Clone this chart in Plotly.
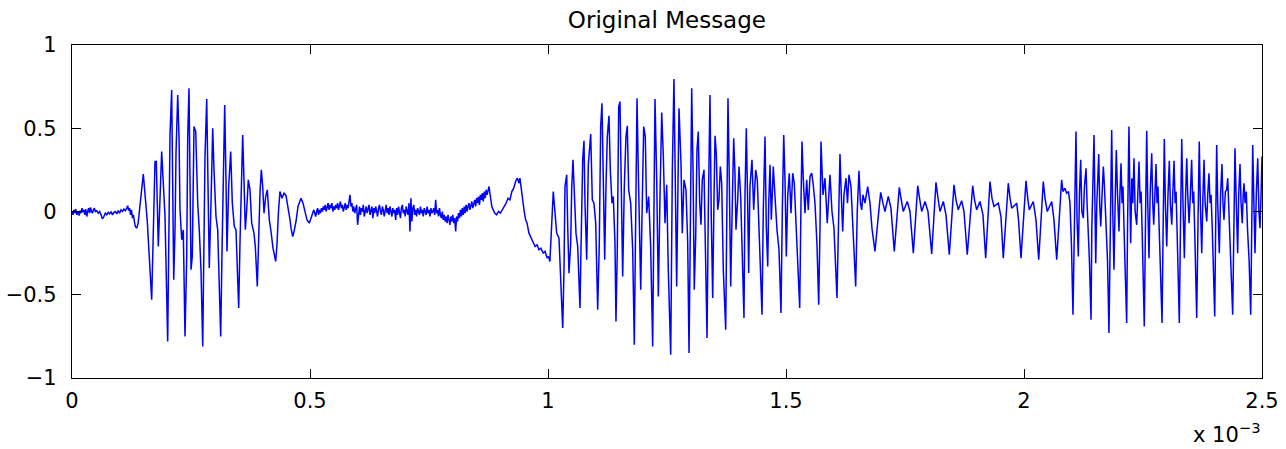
import plotly.graph_objects as go

# ---- data (time in microseconds, amplitude) ----
t_lead = [0, 2, 4, 6, 8, 10, 13, 15, 17, 19, 21, 23, 25, 27, 29, 31, 33, 35, 37, 39, 41, 43, 45, 47, 49,
          52, 55, 58, 61, 64, 67, 70, 73, 76, 79, 82, 85, 88, 91, 94, 97, 100, 103, 106, 109, 112, 115,
          117, 119, 121, 123, 125, 127, 129, 131, 133, 136, 139]
y_lead = [0.0, -0.02, 0.01, -0.01, 0.015, -0.02, 0.0, -0.025, 0.005, -0.01, 0.02, -0.005, 0.01, -0.02,
          0.015, -0.03, 0.0, 0.02, -0.01, 0.025, 0.0, -0.01, 0.01, 0.02, 0.0, 0.005, -0.01, 0.0, -0.02,
          -0.045, -0.03, -0.01, -0.02, -0.005, -0.015, 0.0, -0.02, -0.005, 0.0, -0.015, 0.005, -0.01,
          0.01, 0.0, 0.015, 0.005, 0.02, 0.035, 0.005, 0.02, -0.02, 0.01, -0.04, -0.02, -0.06, -0.09,
          -0.10, -0.07]

t_burst1 = [149.8, 158.2, 167.4, 174.4, 177.1, 181.3, 188.4, 195.4, 201.0, 203.8, 205.9, 209.4, 211.6,
            213.7, 216.4, 218.5, 222.1, 224.8, 226.9, 230.5, 233.8, 237.4, 241.0, 243.1, 245.8, 247.9,
            250.0, 252.7, 256.3, 259.9, 264.1, 267.4, 271.0, 274.6, 277.3, 279.4, 283.0, 286.3, 288.4,
            292.0, 295.6, 298.3, 302.5, 306.1, 309.4, 312.4, 315.1, 317.9, 320.8, 323.5, 325.6, 329.2,
            333.4, 336.8, 341.0, 344.5, 347.3, 350.2, 352.9, 355.7, 358.6, 361.3, 364.1, 367.0, 370.4,
            373.9, 377.5, 382.3, 385.1, 389.3, 392.8, 394.9, 397.7, 400.6, 403.4, 406.9, 410.3, 414.5,
            418.1, 422.3, 427.9, 430.6, 433.8, 436.9, 441.1, 445.4, 449.6, 453.8, 458.0, 460.1, 463.7,
            466.4, 470.6, 474.8, 481.1, 485.3, 489.5, 493.7, 498.5, 502.1]
y_burst1 = [0.225, -0.06, -0.53, 0.30, 0.30, -0.21, 0.36, -0.03, -0.78, -0.10, 0.46, 0.73, 0.21, -0.41,
            -0.11, 0.35, 0.70, 0.45, 0.01, -0.17, -0.11, -0.75, -0.27, 0.45, 0.74, 0.21, -0.35, -0.27,
            0.51, 0.48, 0.05, -0.11, -0.35, -0.81, -0.11, 0.33, 0.675, 0.19, -0.34, 0.05, 0.50, 0.25,
            -0.03, -0.11, -0.45, -0.75, -0.25, 0.31, 0.64, 0.19, -0.24, 0.15, 0.36, 0.05, -0.09, -0.11,
            -0.31, -0.58, -0.19, 0.25, 0.46, 0.19, -0.11, 0.01, 0.19, 0.13, -0.07, -0.13, -0.21, -0.45,
            -0.05, 0.11, 0.25, 0.15, -0.01, 0.09, 0.13, -0.05, -0.12, -0.22, -0.30, -0.20, 0.0, 0.12,
            0.08, 0.11, 0.095, 0.03, -0.05, -0.10, -0.15, -0.12, -0.06, 0.03, 0.08, 0.05, -0.01, -0.05,
            -0.07, -0.04]

t_quiet = [506, 508, 510, 512, 514, 516, 518, 520, 522, 524,
           526, 528, 530, 532, 534, 536, 538, 540, 542, 544,
           546, 548, 550, 552, 554, 556, 558, 560, 562, 564,
           566, 568, 570, 572, 574, 576, 578, 580, 582, 584,
           586, 588, 590, 592, 594, 596, 598, 600, 602, 604,
           606, 608, 610, 612, 614, 616, 618, 620, 622, 624,
           626, 628, 630, 632, 634, 636, 638, 640, 642, 644,
           646, 648, 650, 652, 654, 656, 658, 660, 662, 664,
           666, 668, 670, 672, 674, 676, 678, 680, 682, 684,
           686, 688, 690, 692, 694, 696, 698, 700, 702, 704,
           706, 708, 710, 712, 714, 716, 718, 720, 722, 724,
           726, 728, 730, 732, 734, 736, 738, 740, 742, 744,
           746, 748, 750, 752, 754, 756, 758, 760, 762, 764,
           766, 768, 770, 772, 774, 776, 778, 780, 782, 784,
           786, 788, 790, 792, 794, 796, 798, 800, 802, 804,
           806, 808, 810, 812, 814, 816, 818, 820, 822, 824,
           826, 828, 830, 832, 834, 836, 838, 840, 842, 844,
           846, 848, 850, 852, 854, 856, 858, 860, 862, 864,
           866, 868, 870, 872, 874,
           876, 879, 882, 885, 888, 892, 896, 900, 904, 908, 912, 916, 920, 924, 928, 932, 935, 937,
           939, 941, 944, 947, 950, 953, 956, 960, 964, 968, 973, 977, 981, 985, 990, 994, 998, 1001,
           1004]
y_quiet = [-0.02, 0.01, -0.01, -0.03, 0.0, 0.02, -0.02, 0.01, -0.01, 0.02,
           0.0, 0.03, 0.01, 0.04, 0.0, 0.03, 0.05, 0.01, 0.04, 0.02,
           0.05, 0.0, 0.03, 0.01, 0.04, 0.02, 0.05, 0.01, 0.03, 0.06,
           0.02, 0.04, 0.0, 0.03, 0.05, 0.01, 0.04, 0.02, 0.06, 0.10,
           0.03, 0.05, 0.0, 0.03, -0.01, 0.02, 0.04, -0.08, 0.0, 0.03,
           -0.02, 0.02, 0.0, 0.04, -0.03, 0.01, 0.03, -0.01, 0.02, 0.04,
           -0.02, 0.01, 0.03, -0.04, 0.02, -0.01, 0.03, 0.0, -0.03, 0.02,
           0.04, 0.0, -0.02, 0.03, 0.01, -0.03, 0.02, 0.04, -0.01, 0.02,
           -0.02, 0.03, 0.0, -0.03, 0.02, -0.01, 0.01, -0.05, 0.02, -0.02,
           0.03, 0.0, -0.04, 0.02, 0.04, -0.01, 0.01, -0.03, 0.03, 0.0,
           -0.02, 0.05, -0.12, 0.08, -0.06, 0.02, 0.04, -0.02, 0.01, -0.03,
           0.02, 0.0, -0.02, 0.03, -0.01, 0.01, -0.03, 0.02, 0.0, -0.02,
           0.03, -0.01, 0.01, -0.03, 0.02, -0.01, 0.0, 0.02, -0.02, 0.07,
           -0.01, 0.01, -0.03, 0.02, -0.02, -0.04, 0.0, -0.05, -0.02, -0.06,
           -0.03, -0.07, -0.02, -0.05, -0.08, -0.03, -0.06, -0.02, -0.07, -0.04,
           -0.12, -0.03, -0.06, -0.01, -0.04, 0.01, -0.03, 0.02, -0.02, 0.03,
           -0.01, 0.04, 0.0, 0.03, 0.05, 0.01, 0.04, 0.06, 0.02, 0.05,
           0.07, 0.03, 0.08, 0.05, 0.09, 0.04, 0.10, 0.07, 0.11, 0.06,
           0.12, 0.08, 0.13, 0.10, 0.14,
           0.15, 0.09, 0.03, 0.01, -0.01, -0.02, 0.0, -0.01, 0.01, 0.03, 0.05, 0.08, 0.07, 0.12, 0.14,
           0.18, 0.20, 0.19, 0.17, 0.20, 0.12, 0.05, 0.0, -0.05, -0.07, -0.13, -0.16, -0.18, -0.21,
           -0.20, -0.23, -0.22, -0.25, -0.24, -0.28, -0.27, -0.30]

t_burst2 = [1011.1, 1018.2, 1023.1, 1030.9, 1033.6, 1035.7, 1039.3, 1041.4, 1044.1, 1047.7, 1049.8,
            1052.5, 1055.3, 1058.8, 1062.4, 1067.2, 1069.4, 1072.9, 1075.6, 1077.7, 1081.3, 1084.7,
            1089.7, 1093.1, 1096.6, 1100.2, 1104.4, 1107.8, 1110.7, 1113.4, 1116.2, 1119.1, 1121.8,
            1124.6, 1128.1, 1130.9, 1134.4, 1137.2, 1140.7, 1142.8, 1145.6, 1148.5, 1151.2, 1154.0,
            1156.9, 1160.3, 1163.8, 1166.6, 1169.5, 1173.7, 1177.9, 1181.3, 1184.2, 1187.0, 1189.7,
            1193.3, 1194.8, 1197.5, 1201.0, 1204.4, 1207.3, 1211.5, 1215.7, 1219.9, 1222.7, 1224.8,
            1228.4, 1231.8, 1235.3, 1238.9, 1242.3, 1245.8, 1249.4, 1252.7, 1257.8, 1261.2, 1264.6,
            1267.4, 1270.3, 1273.1, 1275.2, 1279.4, 1282.1, 1285.7, 1289.9, 1293.5, 1296.3, 1299.0,
            1301.9, 1304.7, 1307.3, 1310.3, 1313.0, 1315.7, 1318.7, 1321.4, 1324.1, 1327.7, 1330.5,
            1334.1, 1336.8, 1340.3, 1343.1, 1346.0, 1348.8, 1350.9, 1353.6, 1356.5, 1359.2, 1362.0,
            1364.9, 1368.3, 1373.3, 1375.4, 1378.1, 1380.9, 1383.8, 1386.5, 1390.1, 1392.8, 1394.9,
            1398.5, 1401.3, 1404.8, 1408.2, 1411.7, 1413.8, 1416.6, 1419.5, 1421.6, 1424.3, 1428.5,
            1432.1, 1436.3, 1439.7, 1443.3, 1446.8, 1449.6, 1452.3, 1455.9, 1458.6, 1461.6, 1463.7,
            1466.4, 1469.2, 1473.3, 1476.9, 1481.1, 1485.3, 1489.5, 1492.3, 1495.2, 1497.9, 1500.7,
            1503.6, 1506.9, 1510.5, 1514.1, 1517.4, 1521.0, 1524.6, 1528.8, 1531.5, 1533.6, 1536.4,
            1539.9, 1543.5, 1546.8, 1550.4, 1554.0, 1557.3, 1560.9, 1565.1, 1568.7, 1571.4, 1573.5,
            1577.7, 1581.9, 1586.7, 1589.3, 1592.4, 1596.6, 1600.8, 1607.1, 1610.3, 1613.4, 1616.2,
            1619.1, 1621.8, 1626.0, 1629.2, 1632.3, 1636.5, 1640.7, 1646.4, 1649.7, 1653.3, 1656.4,
            1659.0, 1661.7, 1665.9, 1671.6, 1676.4, 1680.6]
y_burst2 = [0.12, -0.13, -0.16, -0.70, -0.35, 0.15, 0.22, -0.09, -0.37, -0.19, 0.14, 0.31, 0.15, -0.13,
            -0.21, -0.58, -0.21, 0.31, 0.425, 0.05, -0.29, 0.28, 0.465, 0.07, 0.05, -0.07, -0.59, -0.19,
            0.51, 0.65, 0.19, -0.29, 0.15, 0.45, 0.575, 0.25, 0.05, 0.09, -0.19, -0.66, -0.23, 0.63, 0.66,
            0.09, -0.39, 0.15, 0.45, 0.515, 0.13, 0.05, -0.23, -0.80, 0.05, 0.68, 0.25, -0.35, -0.47,
            -0.03, 0.51, 0.45, -0.01, 0.09, -0.21, -0.81, -0.05, 0.675, 0.19, -0.51, 0.09, 0.595, 0.33,
            -0.07, 0.16, -0.35, -0.86, 0.25, 0.795, 0.25, -0.45, 0.17, 0.62, 0.29, -0.13, 0.19, 0.13,
            -0.19, -0.85, -0.11, 0.74, 0.25, -0.47, -0.15, 0.37, 0.48, 0.05, -0.08, 0.19, 0.25, -0.31,
            -0.76, 0.01, 0.70, -0.05, -0.52, 0.09, 0.455, 0.35, 0.01, 0.07, 0.27, 0.17, -0.35, -0.71,
            0.11, 0.68, 0.19, -0.45, -0.05, 0.44, 0.23, -0.11, 0.07, 0.27, 0.09, -0.35, -0.64, 0.09, 0.50,
            0.05, -0.37, 0.15, 0.31, 0.01, 0.25, 0.19, -0.11, -0.35, -0.62, 0.01, 0.45, -0.09, -0.33,
            0.05, 0.28, -0.05, 0.27, 0.09, -0.11, -0.23, -0.61, 0.01, 0.46, 0.19, -0.27, 0.09, 0.23,
            -0.01, 0.23, 0.17, -0.07, -0.21, -0.58, 0.05, 0.42, 0.19, -0.01, 0.19, 0.01, 0.21, 0.23,
            0.16, 0.05, -0.20, -0.56, -0.10, 0.42, 0.10, 0.20, -0.07, 0.10, 0.22, 0.0, -0.10, -0.52, 0.0,
            0.345, 0.10, -0.12, 0.10, 0.20, 0.05, 0.22, 0.15, -0.10, -0.45, 0.0, 0.245, 0.05, 0.01, 0.10,
            0.05, 0.15, 0.05, -0.10]

t_voiced = [1686.9, 1693.2, 1698.9, 1703.7, 1707.9, 1714.9, 1720.5, 1727.5, 1731.0, 1738.0, 1741.6,
            1746.4, 1754.8, 1760.5, 1767.5, 1771.0, 1776.7, 1780.5, 1785.1, 1792.0, 1798.3, 1806.1,
            1809.9, 1815.1, 1819.3, 1823.5, 1830.5, 1836.1, 1843.1, 1846.6, 1852.9, 1857.1, 1861.9,
            1869.0, 1873.9, 1880.8, 1885.4, 1892.2, 1896.0, 1900.6, 1907.5, 1913.8, 1919.5, 1923.3,
            1928.5, 1932.7, 1936.9, 1946.0, 1951.6, 1956.5, 1960.1, 1967.0, 1970.6, 1974.2, 1984.7,
            1988.5, 1993.7, 1997.9, 2004.2, 2007.8, 2011.1, 2019.5, 2025.2, 2030.9, 2034.6, 2040.5,
            2044.1, 2048.9, 2058.2, 2063.0, 2068.7, 2072.4, 2079.1, 2081.9, 2086.1, 2089.6, 2093.4,
            2096.6, 2099.7]
y_voiced = [-0.24, -0.05, 0.115, 0.05, 0.0, 0.09, 0.02, -0.24, -0.10, 0.145, 0.08, 0.0, 0.06, 0.0,
            -0.25, -0.10, 0.155, 0.08, 0.0, 0.06, 0.0, -0.255, -0.10, 0.175, 0.08, 0.0, 0.06, -0.02,
            -0.26, -0.10, 0.16, 0.07, 0.01, 0.065, 0.0, -0.26, -0.10, 0.155, 0.07, 0.01, 0.06, -0.02,
            -0.28, -0.10, 0.18, 0.08, 0.03, 0.05, -0.03, -0.28, -0.10, 0.17, 0.08, 0.02, 0.05, -0.05,
            -0.28, -0.10, 0.185, 0.08, 0.01, 0.06, -0.05, -0.29, -0.10, 0.18, 0.08, 0.0, 0.06, -0.05,
            -0.29, -0.10, 0.19, 0.12, 0.14, 0.11, 0.12, 0.05, -0.20]

t_burst3 = [2102.9, 2106.1, 2109.2, 2111.5, 2114.1, 2116.5, 2119.1, 2121.5, 2124.6, 2127.0, 2130.3,
            2132.5, 2135.1, 2137.5, 2140.8, 2142.5, 2147.1, 2149.0, 2150.7, 2153.0, 2155.0, 2157.0,
            2159.0, 2161.2, 2164.0, 2166.7, 2169.0, 2172.3, 2175.5, 2178.5, 2180.5, 2182.0, 2184.2,
            2186.5, 2189.0, 2191.5, 2193.9, 2196.5, 2199.6, 2201.5, 2203.8, 2206.0, 2208.0, 2210.1,
            2213.0, 2215.7, 2217.5, 2220.5, 2222.5, 2224.1, 2226.5, 2228.5, 2231.1, 2233.5, 2236.8,
            2239.0, 2241.6, 2244.0, 2246.0, 2248.5, 2250.5, 2252.7, 2255.3, 2257.8, 2260.0, 2262.6,
            2265.0, 2268.3, 2270.5, 2272.5, 2275.0, 2277.4, 2279.5, 2281.5, 2284.0, 2287.0, 2290.0,
            2292.5, 2294.8, 2297.0, 2299.9, 2302.5, 2305.3, 2307.5, 2310.4, 2312.5, 2315.2, 2317.5,
            2319.5, 2321.5, 2324.0, 2326.3, 2328.9, 2331.4, 2334.0, 2336.9, 2339.5, 2341.9, 2344.0,
            2346.8, 2349.5, 2352.2, 2354.5, 2356.5, 2358.5, 2360.5, 2362.8, 2365.7, 2368.2, 2370.5,
            2373.4, 2376.0, 2378.2, 2380.5, 2383.9, 2386.0, 2388.6, 2391.0, 2393.0, 2395.5, 2398.0,
            2400.7, 2402.8, 2404.8, 2407.0, 2410.3, 2413.0, 2415.9, 2418.0, 2420.2, 2423.0, 2425.8,
            2428.0, 2430.5, 2433.0, 2435.5, 2438.4, 2441.2, 2443.2, 2446.0, 2448.9, 2451.0, 2453.8,
            2456.0, 2458.6, 2460.5, 2462.2, 2464.5, 2467.0, 2469.5, 2473.0, 2476.3, 2478.6, 2480.5,
            2483.0, 2485.3, 2488.0, 2491.0, 2493.5, 2495.8, 2498.0, 2500.0]
y_burst3 = [-0.62, -0.10, 0.48, -0.05, -0.27, 0.10, 0.31, 0.0, -0.04, 0.15, 0.26, 0.05, -0.11, -0.30,
            -0.65, -0.10, 0.46, 0.0, -0.31, 0.05, 0.20, 0.345, 0.05, -0.09, 0.10, 0.27, 0.15, -0.05,
            -0.30, -0.73, -0.20, 0.20, 0.49, 0.0, -0.35, 0.05, 0.37, 0.10, -0.12, 0.10, 0.29, 0.05, 0.15,
            -0.10, -0.35, -0.67, -0.10, 0.51, 0.10, -0.19, 0.20, 0.05, 0.32, 0.0, -0.08, 0.10, 0.30,
            0.05, 0.12, -0.15, -0.35, -0.69, -0.05, 0.485, 0.05, -0.28, 0.10, 0.35, 0.05, -0.08, 0.10,
            0.285, 0.05, 0.15, -0.10, -0.35, -0.67, -0.05, 0.435, 0.05, -0.21, 0.10, 0.305, 0.05, -0.08,
            0.10, 0.305, 0.05, 0.12, -0.10, -0.35, -0.67, -0.05, 0.435, 0.05, -0.28, 0.10, 0.32, 0.10,
            -0.07, 0.10, 0.31, 0.05, 0.12, -0.10, -0.30, -0.64, -0.05, 0.42, 0.05, -0.25, 0.10, 0.31,
            0.05, -0.06, 0.10, 0.23, 0.05, 0.10, -0.10, -0.30, -0.63, -0.05, 0.40, 0.05, -0.25, 0.10,
            0.285, 0.05, -0.05, 0.12, 0.13, 0.20, 0.0, -0.10, -0.30, -0.62, -0.05, 0.38, 0.05, -0.25,
            0.10, 0.285, 0.05, -0.07, 0.10, 0.17, 0.05, 0.12, -0.10, -0.30, -0.62, -0.05, 0.40, 0.05,
            -0.25, 0.10, 0.32, 0.0, -0.10, 0.10, 0.33]

x_tickvals = [0, 0.5e-3, 1.0e-3, 1.5e-3, 2.0e-3, 2.5e-3]
x_ticktext = ["0", "0.5", "1", "1.5", "2", "2.5"]
y_tickvals = [-1, -0.5, 0, 0.5, 1]
y_ticktext = ["\u22121", "\u22120.5", "0", "0.5", "1"]

t_all = t_lead + t_burst1 + t_quiet + t_burst2 + t_voiced + t_burst3
y_all = y_lead + y_burst1 + y_quiet + y_burst2 + y_voiced + y_burst3
t_sec = [v * 1e-6 for v in t_all]

FONT = "DejaVu Sans, Liberation Sans, Arial, sans-serif"

fig = go.Figure()
fig.add_trace(go.Scatter(x=t_sec, y=y_all, mode="lines",
                         line=dict(color="#0000FF", width=1.5), showlegend=False,
                         hoverinfo="skip"))

axis_common = dict(showline=True, linecolor="black", linewidth=1.3, mirror="ticks",
                   ticks="inside", ticklen=9, tickcolor="black", tickwidth=1,
                   showgrid=False, zeroline=False, automargin=False,
                   tickfont=dict(family=FONT, size=21, color="black"))

fig.update_layout(
    width=1286, height=449,
    margin=dict(l=72, r=24, t=45, b=71, autoexpand=False),
    paper_bgcolor="white", plot_bgcolor="white",
    title=dict(text="Original Message", x=0.5186, xanchor="center", y=0.955, yanchor="middle",
               font=dict(family=FONT, size=23, color="black")),
    xaxis=dict(range=[0, 2.5e-3], tickvals=x_tickvals, ticktext=x_ticktext,
               ticklabelstandoff=4, **axis_common),
    yaxis=dict(range=[-1, 1], tickvals=y_tickvals, ticktext=y_ticktext,
               ticklabelstandoff=10, **axis_common),
)
fig.add_annotation(text="x 10<sup>\u22123</sup>", xref="paper", yref="paper", x=1.0, y=-0.165,
                   xanchor="right", yanchor="middle", showarrow=False,
                   font=dict(family=FONT, size=21, color="black"))

fig.write_html("out.html")
